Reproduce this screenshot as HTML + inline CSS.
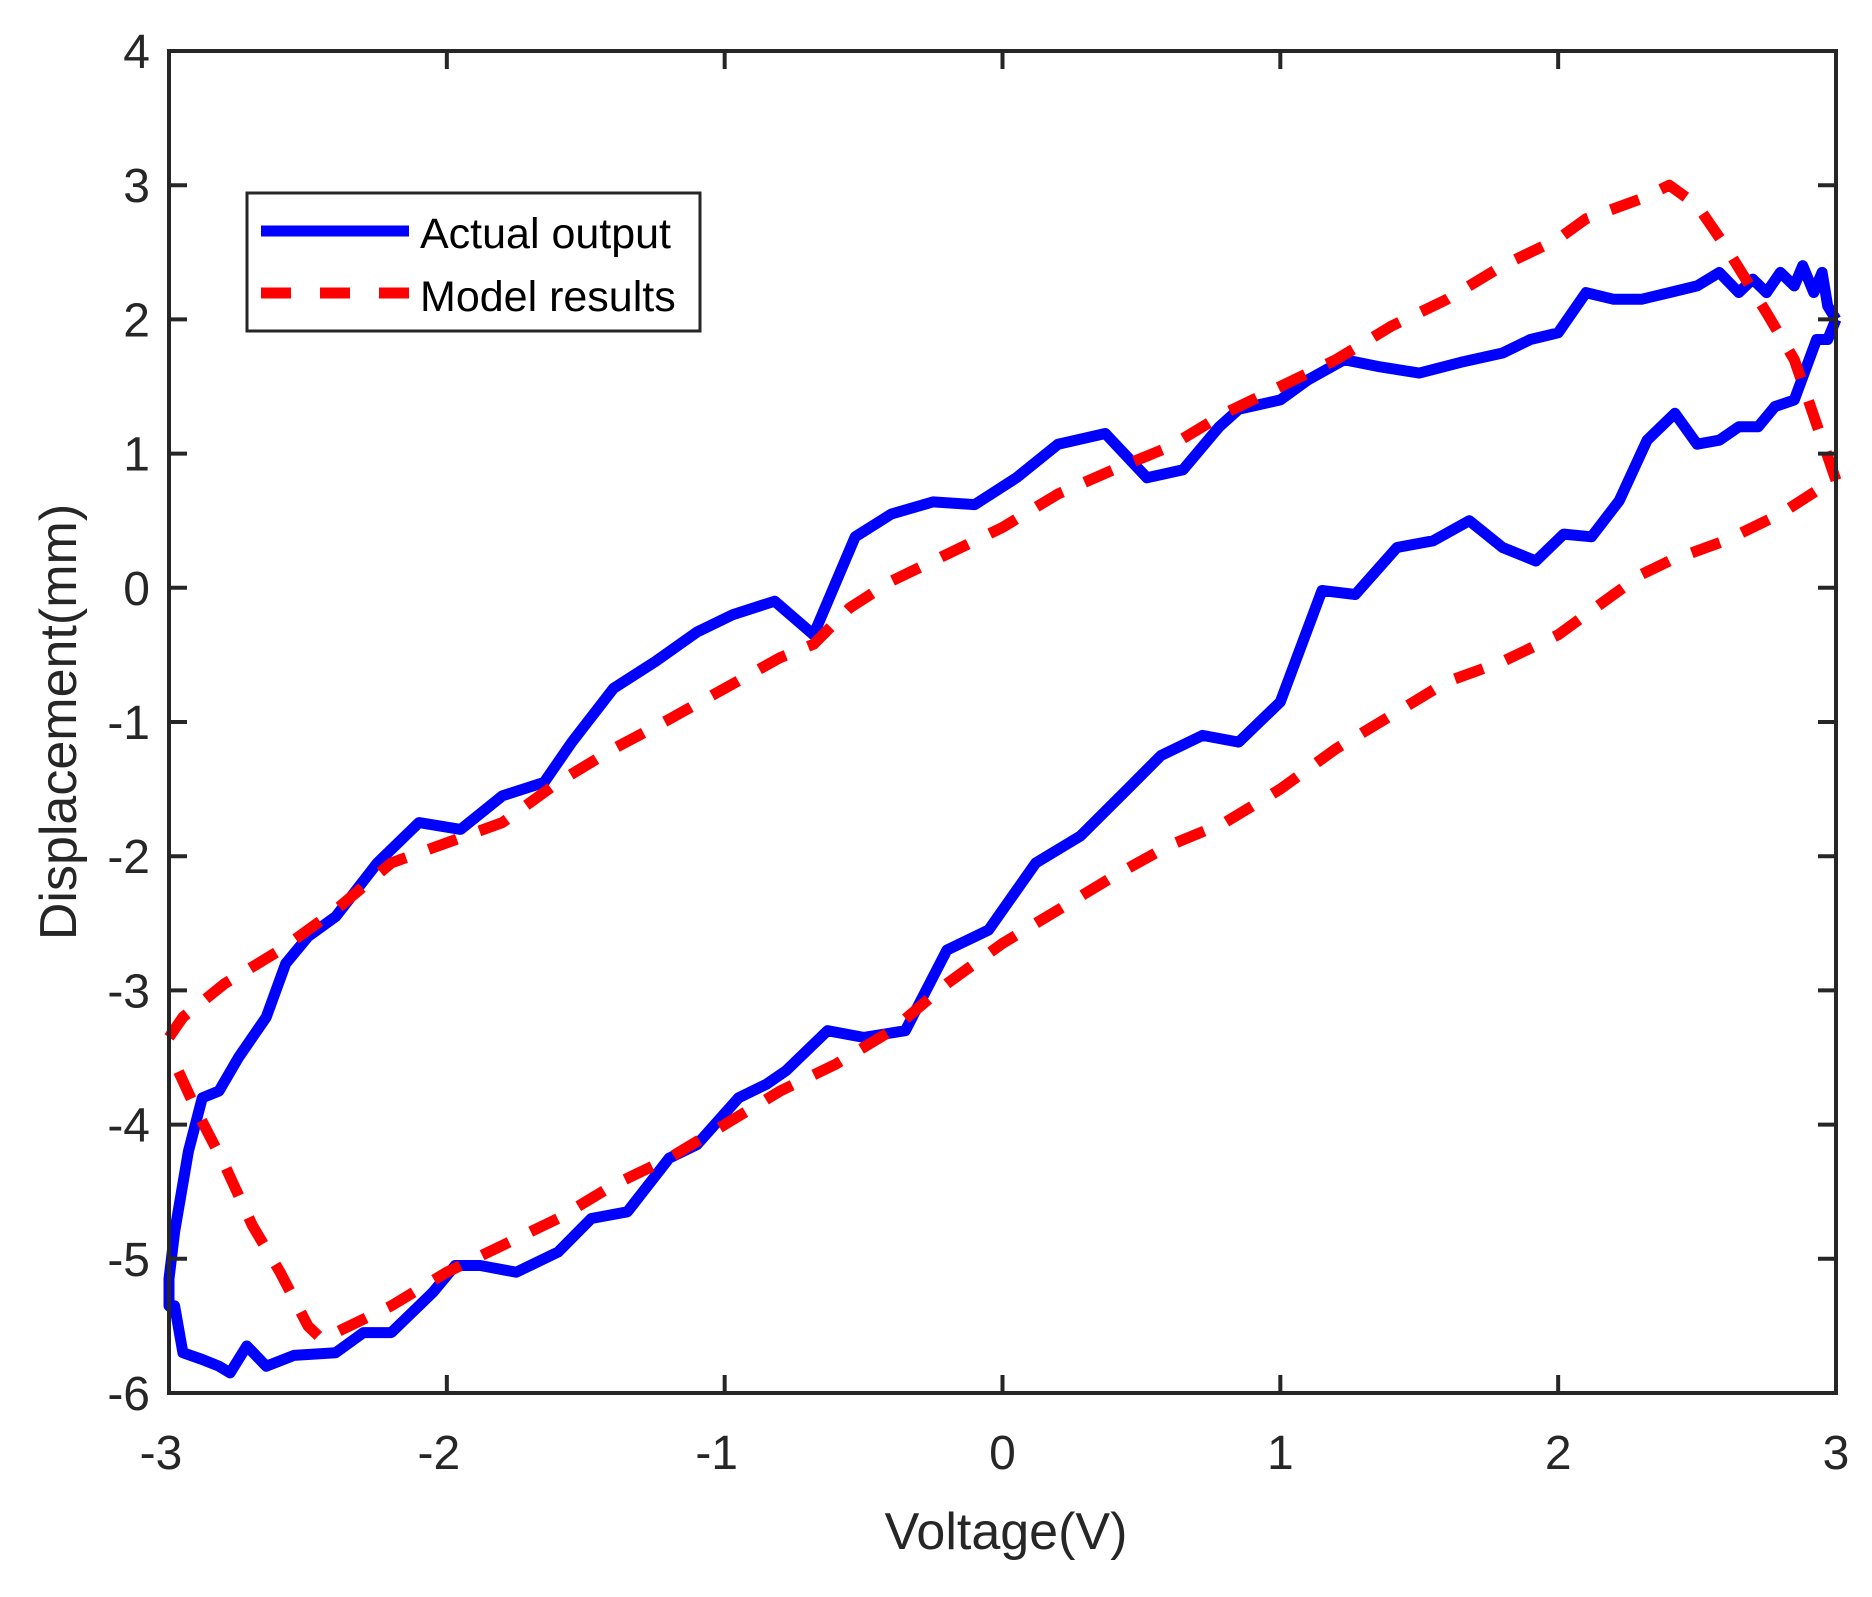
<!DOCTYPE html>
<html><head><meta charset="utf-8"><style>
html,body{margin:0;padding:0;background:#fff;}
svg{display:block;font-family:"Liberation Sans",Arial,sans-serif;}
</style></head><body>
<svg id="chart" width="1872" height="1597" viewBox="0 0 1872 1597">
<rect x="0" y="0" width="1872" height="1597" fill="#fff"/>
<g id="series"></g>
<g id="axes"></g>
<g>
<rect x="247" y="193" width="453" height="138" fill="#fff" stroke="#262626" stroke-width="3"/>
<line x1="261" y1="231" x2="409" y2="231" stroke="#0000ff" stroke-width="11"/>
<text x="420" y="248" font-size="43" fill="#000">Actual output</text>
<line x1="261" y1="293" x2="409" y2="293" stroke="#ff0000" stroke-width="11" stroke-dasharray="30 29"/>
<text x="420" y="311" font-size="43" fill="#000">Model results</text>
</g>
<text x="1006" y="1549" font-size="52" fill="#262626" text-anchor="middle">Voltage(V)</text>
<text x="0" y="0" font-size="52" fill="#262626" text-anchor="middle" transform="translate(76,722) rotate(-90)">Displacement(mm)</text>
</svg>
<script>
const xTicks = [-3,-2,-1,0,1,2,3];
const yTicks = [-6,-5,-4,-3,-2,-1,0,1,2,3,4];
const actualV = [3.0,2.97,2.95,2.92,2.88,2.85,2.8,2.75,2.7,2.65,2.58,2.5,2.4,2.3,2.2,2.1,2.0,1.9,1.8,1.65,1.5,1.35,1.23,1.1,1.0,0.85,0.78,0.65,0.52,0.37,0.2,0.05,-0.1,-0.25,-0.4,-0.53,-0.68,-0.82,-0.97,-1.1,-1.25,-1.4,-1.55,-1.65,-1.8,-1.95,-2.1,-2.25,-2.4,-2.5,-2.58,-2.65,-2.75,-2.82,-2.88,-2.93,-2.98,-3.0,-3.0,-2.98,-2.95,-2.88,-2.82,-2.78,-2.72,-2.65,-2.55,-2.4,-2.3,-2.2,-2.05,-1.97,-1.88,-1.75,-1.6,-1.48,-1.35,-1.2,-1.1,-0.95,-0.85,-0.78,-0.63,-0.5,-0.35,-0.2,-0.05,0.12,0.28,0.45,0.57,0.72,0.85,1.0,1.15,1.27,1.42,1.55,1.68,1.8,1.92,2.02,2.12,2.22,2.32,2.42,2.5,2.58,2.65,2.72,2.78,2.85,2.93,2.97,3.0];
const actualD = [2.0,2.1,2.35,2.2,2.4,2.25,2.35,2.2,2.3,2.2,2.35,2.25,2.2,2.15,2.15,2.2,1.9,1.85,1.75,1.68,1.6,1.65,1.7,1.55,1.4,1.33,1.2,0.88,0.82,1.15,1.07,0.82,0.62,0.64,0.55,0.38,-0.35,-0.1,-0.2,-0.33,-0.55,-0.75,-1.15,-1.45,-1.55,-1.8,-1.75,-2.05,-2.45,-2.6,-2.8,-3.2,-3.5,-3.75,-3.8,-4.2,-4.8,-5.15,-5.35,-5.35,-5.7,-5.75,-5.8,-5.85,-5.65,-5.8,-5.72,-5.7,-5.55,-5.55,-5.25,-5.05,-5.05,-5.1,-4.95,-4.7,-4.65,-4.25,-4.15,-3.8,-3.7,-3.6,-3.3,-3.35,-3.3,-2.7,-2.55,-2.05,-1.85,-1.5,-1.25,-1.1,-1.15,-0.85,-0.02,-0.05,0.3,0.35,0.5,0.3,0.2,0.4,0.38,0.65,1.1,1.3,1.07,1.1,1.2,1.2,1.35,1.4,1.85,1.85,2.0];
const modelV = [-3.0,-2.95,-2.8,-2.6,-2.4,-2.2,-2.0,-1.8,-1.6,-1.4,-1.2,-1.0,-0.8,-0.68,-0.55,-0.4,-0.2,0,0.2,0.4,0.6,0.8,1.0,1.2,1.4,1.6,1.8,2.0,2.1,2.3,2.4,2.5,2.6,2.75,2.85,2.95,3.0,2.95,2.8,2.6,2.4,2.3,2.2,2.0,1.8,1.6,1.4,1.2,1.0,0.8,0.6,0.4,0.2,0.0,-0.2,-0.4,-0.6,-0.8,-1.0,-1.2,-1.4,-1.6,-1.8,-2.0,-2.2,-2.4,-2.45,-2.5,-2.6,-2.7,-2.8,-2.9,-3.0];
const modelD = [-3.35,-3.2,-2.95,-2.7,-2.4,-2.05,-1.9,-1.75,-1.45,-1.2,-0.98,-0.75,-0.52,-0.42,-0.15,0.05,0.25,0.45,0.7,0.88,1.05,1.3,1.5,1.7,1.95,2.15,2.4,2.6,2.75,2.9,3.0,2.85,2.55,2.05,1.7,1.1,0.8,0.75,0.55,0.35,0.2,0.1,-0.05,-0.35,-0.55,-0.7,-0.95,-1.2,-1.5,-1.75,-1.92,-2.15,-2.4,-2.65,-2.95,-3.3,-3.55,-3.75,-4.0,-4.25,-4.45,-4.7,-4.9,-5.1,-5.35,-5.55,-5.6,-5.5,-5.1,-4.75,-4.3,-3.9,-3.45];

const L=169,R=1836,T=51,B=1393;
const sx=v=>L+(v+3)/6*(R-L);
const sy=v=>B-(v+6)/10*(B-T);
const NS='http://www.w3.org/2000/svg';
const ser=document.getElementById('series');
function path(xs,ys,color,dash,name){
  const p=document.createElementNS(NS,'path');
  p.setAttribute('d',xs.map((x,i)=>(i?'L':'M')+sx(x).toFixed(1)+','+sy(ys[i]).toFixed(1)).join(''));
  p.setAttribute('fill','none');p.setAttribute('stroke',color);p.setAttribute('stroke-width','11');
  p.setAttribute('stroke-linejoin','round');
  if(dash)p.setAttribute('stroke-dasharray',dash);
  
  
  ser.appendChild(p);
}
path(actualV,actualD,'#0000ff',null,'actual-output-line');
path(modelV,modelD,'#ff0000','30 24','model-results-line');
const ax=document.getElementById('axes');
const fr=document.createElementNS(NS,'rect');
fr.setAttribute('x',L);fr.setAttribute('y',T);fr.setAttribute('width',R-L);fr.setAttribute('height',B-T);
fr.setAttribute('fill','none');fr.setAttribute('stroke','#262626');fr.setAttribute('stroke-width','4');


ax.appendChild(fr);
function ln(x1,y1,x2,y2){const l=document.createElementNS(NS,'line');l.setAttribute('x1',x1);l.setAttribute('y1',y1);l.setAttribute('x2',x2);l.setAttribute('y2',y2);l.setAttribute('stroke','#262626');l.setAttribute('stroke-width','4');


ax.appendChild(l);}
function tx(x,y,s,anchor,name){const t=document.createElementNS(NS,'text');t.setAttribute('x',x);t.setAttribute('y',y);t.setAttribute('font-size','48');t.setAttribute('fill','#262626');t.setAttribute('text-anchor',anchor);t.textContent=s;


ax.appendChild(t);}
xTicks.forEach(v=>{const x=sx(v);ln(x,B,x,B-18);ln(x,T,x,T+18);tx(x+(v<0?-8:0),1469,String(v),'middle','x-tick-label');});
yTicks.forEach(v=>{const y=sy(v);ln(L,y,L+18,y);ln(R,y,R-18,y);tx(150,y+17,String(v),'end','y-tick-label');});
</script>
</body></html>
